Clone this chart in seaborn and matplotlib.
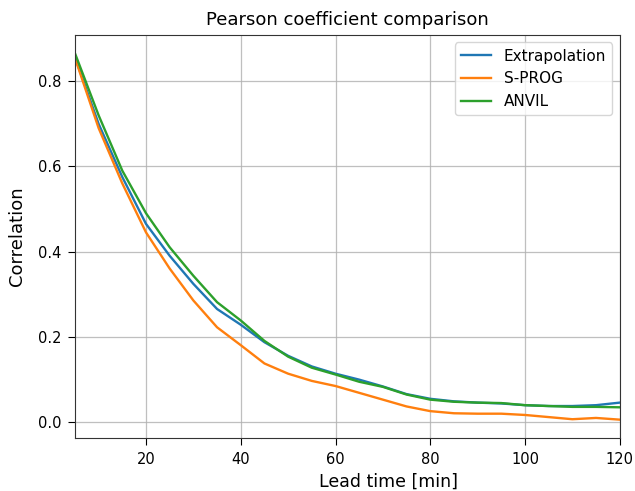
import matplotlib
matplotlib.use("Agg")
import matplotlib.pyplot as plt
import numpy as np
import pandas as pd
import seaborn as sns

# Lead times in minutes
lead_time = [5, 10, 15, 20, 25, 30, 35, 40, 45, 50, 55, 60,
             65, 70, 75, 80, 85, 90, 95, 100, 105, 110, 115, 120]

# Pearson correlation per lead time for each nowcasting method
extrapolation = [0.857, 0.700, 0.575, 0.465, 0.390, 0.324, 0.265, 0.228,
                 0.187, 0.155, 0.130, 0.113, 0.099, 0.083, 0.065, 0.054,
                 0.048, 0.045, 0.043, 0.039, 0.037, 0.037, 0.039, 0.045]
sprog = [0.855, 0.690, 0.560, 0.445, 0.360, 0.285, 0.222, 0.180,
         0.137, 0.113, 0.096, 0.084, 0.068, 0.052, 0.036, 0.025,
         0.020, 0.019, 0.019, 0.016, 0.011, 0.006, 0.009, 0.005]
anvil = [0.866, 0.720, 0.590, 0.490, 0.410, 0.343, 0.281, 0.238,
         0.190, 0.153, 0.127, 0.111, 0.094, 0.082, 0.064, 0.052,
         0.047, 0.045, 0.044, 0.039, 0.037, 0.035, 0.035, 0.034]

methods = ["Extrapolation", "S-PROG", "ANVIL"]

df = pd.DataFrame({
    "lead": lead_time * 3,
    "corr": extrapolation + sprog + anvil,
    "method": [m for m in methods for _ in lead_time],
})

fig = plt.figure(figsize=(6.35, 4.91), dpi=100)
ax = fig.add_axes([0.118, 0.108, 0.858, 0.821])

sns.lineplot(data=df, x="lead", y="corr", hue="method", hue_order=methods,
             palette=["#1f77b4", "#ff7f0e", "#2ca02c"], linewidth=1.7, ax=ax)

ax.set_xlim(5, 120)
ax.grid(True, color="#b0b0b0", linewidth=0.9, alpha=0.8)
ax.tick_params(labelsize=10.5, length=5, pad=5)
for s in ax.spines.values():
    s.set_color("#333333")
ax.set_xlabel("Lead time [min]", fontsize=12.5)
ax.set_ylabel("Correlation", fontsize=13, labelpad=8)
ax.xaxis.set_label_coords(0.575, -0.085)
ax.set_title("Pearson coefficient comparison", fontsize=13, pad=7)

handles, labels = ax.get_legend_handles_labels()
ax.legend(handles, labels, loc="upper right", fontsize=11)

fig.savefig("out.png", dpi=100)
